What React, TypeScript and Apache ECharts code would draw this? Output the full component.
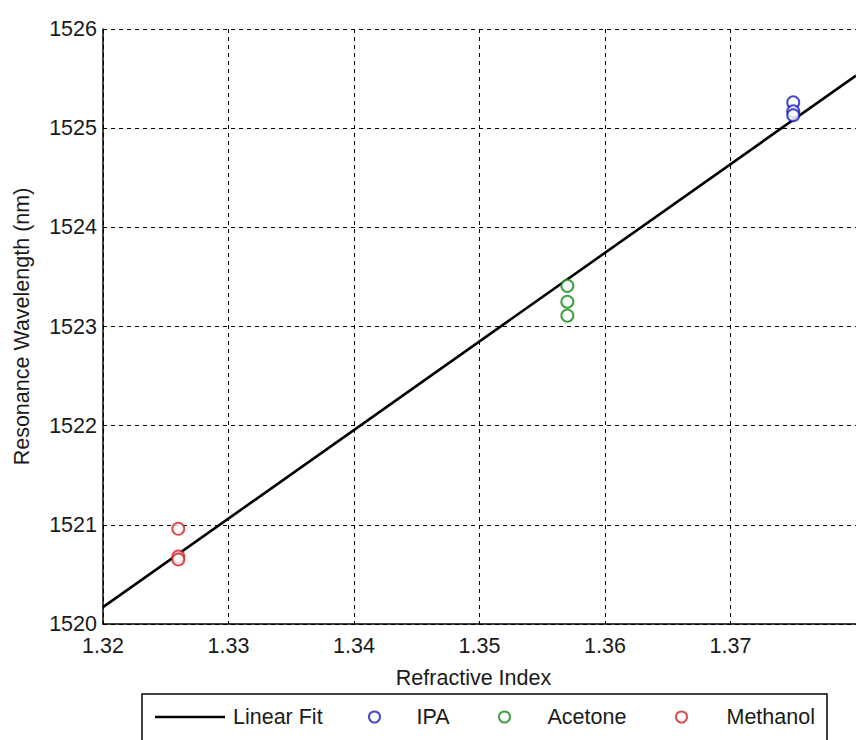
import React, { useEffect, useRef } from "react";
import * as echarts from "echarts";

const seriesNames = ["Linear Fit", "IPA", "Acetone", "Methanol"];
const fitLine: number[][] = [
  [1.32, 1520.17],
  [1.38, 1525.53],
];
const ipa: number[][] = [
  [1.375, 1525.26],
  [1.375, 1525.17],
  [1.375, 1525.13],
];
const acetone: number[][] = [
  [1.357, 1523.41],
  [1.357, 1523.25],
  [1.357, 1523.11],
];
const methanol: number[][] = [
  [1.326, 1520.96],
  [1.326, 1520.68],
  [1.326, 1520.65],
];
const xRange = [1.32, 1.38];
const yRange = [1520, 1526];

const FONT = "'Liberation Sans', Arial, Helvetica, sans-serif";
const TEXT = "#1a1a1a";
const FS = 21.5;

export default function App() {
  const ref = useRef<HTMLDivElement>(null);
  useEffect(() => {
    if (!ref.current) return;
    const chart = echarts.init(ref.current, null, { renderer: "svg" });
    const legendLefts = [155, 368, 498, 675];
    const textPads = [3, 30, 31, 33];
    const legends = seriesNames.map((n, i) => ({
      data: i === 0 ? [{ name: n, icon: "rect" }] : [n],
      left: legendLefts[i],
      top: 706,
      orient: "horizontal",
      itemWidth: i === 0 ? 70 : 14,
      itemHeight: i === 0 ? 2.6 : 11,
      padding: 0,
      selectedMode: false,
      z: 5,
      textStyle: { fontFamily: FONT, fontSize: FS, color: TEXT, padding: [0, 0, 0, textPads[i]] },
    }));
    const scatter = (name: string, data: number[][], color: string) => ({
      name,
      type: "scatter",
      data,
      symbol: "emptyCircle",
      symbolSize: 12,
      itemStyle: { color, borderColor: color, borderWidth: 1.2 },
      z: 3,
    });
    chart.setOption({
      animation: false,
      backgroundColor: "#ffffff",
      textStyle: { fontFamily: FONT },
      grid: { left: 103, top: 29, height: 595, width: 760.8, containLabel: false },
      xAxis: {
        type: "value",
        min: xRange[0],
        max: xRange[1],
        interval: 0.01,
        name: "Refractive Index",
        nameLocation: "middle",
        nameGap: 43,
        nameTextStyle: { fontFamily: FONT, fontSize: FS, color: TEXT, padding: [0, 12, 0, 0] },
        axisLine: { show: true, lineStyle: { color: "#000", width: 1.5 } },
        axisTick: { show: false },
        axisLabel: {
          fontFamily: FONT,
          fontSize: FS,
          color: TEXT,
          margin: 11,
          showMaxLabel: false,
          formatter: (v: number) => v.toFixed(2),
        },
        splitLine: { show: true, lineStyle: { color: "#000", width: 1, type: [4, 4] } },
      },
      yAxis: {
        type: "value",
        min: yRange[0],
        max: yRange[1],
        interval: 1,
        name: "Resonance Wavelength (nm)",
        nameLocation: "middle",
        nameGap: 70,
        nameTextStyle: { fontFamily: FONT, fontSize: FS, color: TEXT },
        axisLine: { show: true, lineStyle: { color: "#000", width: 1.5 } },
        axisTick: { show: false },
        axisLabel: {
          fontFamily: FONT,
          fontSize: FS,
          color: TEXT,
          margin: 6,
          formatter: (v: number) => String(Math.round(v)),
        },
        splitLine: { show: true, lineStyle: { color: "#000", width: 1, type: [4, 4] } },
      },
      legend: legends,
      graphic: [
        {
          type: "rect",
          z: 1,
          shape: { x: 142, y: 694, width: 685, height: 80 },
          style: { fill: "#ffffff", stroke: "#000", lineWidth: 1.5 },
        },
      ],
      series: [
        {
          name: "Linear Fit",
          type: "line",
          data: fitLine,
          symbol: "none",
          lineStyle: { color: "#000", width: 2.6 },
          itemStyle: { color: "#000" },
          z: 2,
        },
        scatter("IPA", ipa, "#1a1ac0"),
        scatter("Acetone", acetone, "#138a13"),
        scatter("Methanol", methanol, "#d42020"),
      ],
    });
    return () => chart.dispose();
  }, []);
  return (
    <div
      ref={ref}
      style={{ position: "absolute", left: 0, top: 0, width: 856, height: 740, background: "#fff" }}
    />
  );
}
